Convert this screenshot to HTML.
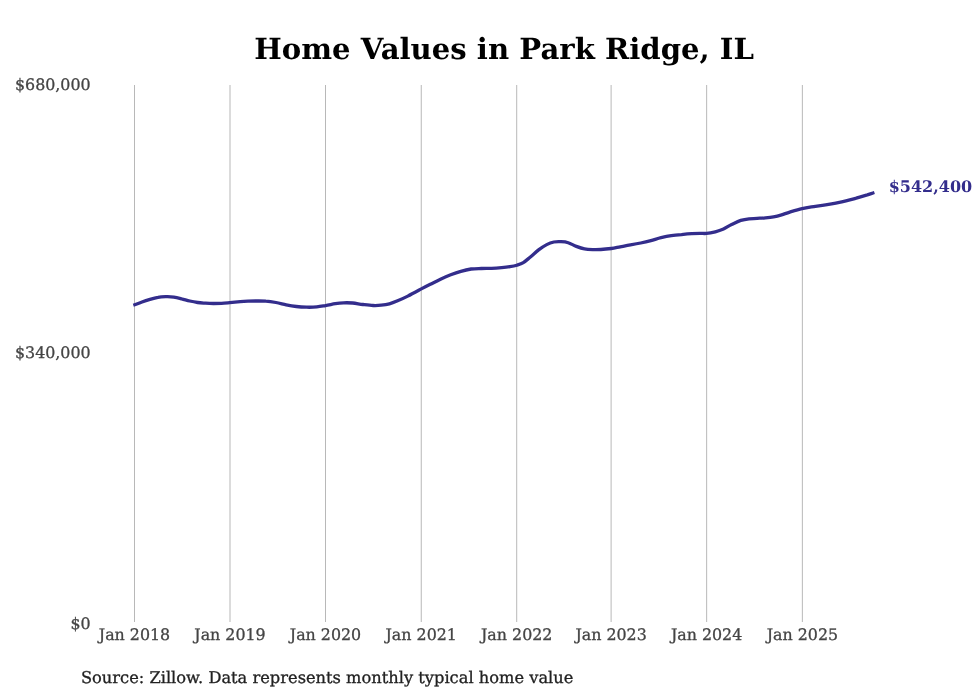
<!DOCTYPE html>
<html lang="en"><head><meta charset="utf-8"><title>Home Values in Park Ridge, IL</title>
<style>
html,body{margin:0;padding:0;background:#fff;}
body{width:980px;height:699px;overflow:hidden;font-family:"DejaVu Serif","Liberation Serif",serif;}
svg{display:block;}
text{text-rendering:geometricPrecision;font-family:"DejaVu Serif","Liberation Serif",serif;}
</style></head><body>
<svg width="980" height="699" viewBox="0 0 980 699">
<rect width="980" height="699" fill="#fff"/>
<g><rect x="134.00" y="85" width="1" height="537" fill="#b8b8b8"/><rect x="229.50" y="85" width="1" height="537" fill="#b8b8b8"/><rect x="325.00" y="85" width="1" height="537" fill="#b8b8b8"/><rect x="420.75" y="85" width="1" height="537" fill="#b8b8b8"/><rect x="516.20" y="85" width="1" height="537" fill="#b8b8b8"/><rect x="610.60" y="85" width="1" height="537" fill="#b8b8b8"/><rect x="706.15" y="85" width="1" height="537" fill="#b8b8b8"/><rect x="801.85" y="85" width="1" height="537" fill="#b8b8b8"/></g>
<text x="504.1" y="59" text-anchor="middle" font-size="29.15" font-weight="bold" fill="#000">Home Values in Park Ridge, IL</text>
<g font-size="15.85" fill="#444" stroke="#444" stroke-width="0.3" text-anchor="end">
<text x="90.6" y="90">$680,000</text>
<text x="90.6" y="358">$340,000</text>
<text x="90.6" y="629">$0</text>
</g>
<g font-size="15.85" fill="#444" stroke="#444" stroke-width="0.3"><text x="134.5" y="640" text-anchor="middle">Jan 2018</text><text x="230.0" y="640" text-anchor="middle">Jan 2019</text><text x="325.5" y="640" text-anchor="middle">Jan 2020</text><text x="421.2" y="640" text-anchor="middle">Jan 2021</text><text x="516.7" y="640" text-anchor="middle">Jan 2022</text><text x="611.1" y="640" text-anchor="middle">Jan 2023</text><text x="706.6" y="640" text-anchor="middle">Jan 2024</text><text x="802.4" y="640" text-anchor="middle">Jan 2025</text></g>
<path d="M133.3,305.2C134.8,304.7 139.2,303.0 142.0,302.0C144.8,301.0 147.3,300.2 150.0,299.4C152.7,298.6 155.4,297.8 158.0,297.4C160.6,296.9 163.1,296.8 165.7,296.7C168.3,296.6 171.1,296.7 173.8,297.1C176.5,297.5 179.0,298.2 181.7,298.9C184.3,299.5 187.0,300.4 189.7,301.0C192.4,301.6 195.0,302.1 197.7,302.5C200.3,302.9 202.9,303.0 205.6,303.2C208.2,303.4 210.9,303.5 213.6,303.5C216.2,303.5 218.8,303.5 221.5,303.4C224.2,303.3 226.7,303.0 229.8,302.7C232.9,302.4 237.3,301.9 240.3,301.6C243.3,301.3 245.4,301.2 248.0,301.1C250.6,301.0 252.6,301.0 255.6,301.0C258.6,301.0 262.4,300.9 265.8,301.2C269.2,301.4 272.6,301.9 276.0,302.5C279.4,303.1 282.8,304.1 286.2,304.8C289.6,305.5 293.0,306.1 296.4,306.5C299.8,306.9 303.2,307.1 306.6,307.2C310.0,307.3 313.6,307.2 316.8,306.9C320.0,306.6 322.5,306.1 325.6,305.6C328.7,305.1 332.3,304.2 335.3,303.7C338.3,303.2 340.6,302.9 343.5,302.8C346.4,302.7 349.5,302.7 352.7,303.0C355.9,303.3 359.5,304.1 362.9,304.5C366.3,304.9 370.1,305.4 373.1,305.5C376.2,305.6 378.5,305.5 381.2,305.2C383.9,304.9 386.7,304.5 389.4,303.8C392.1,303.1 394.5,302.1 397.6,300.8C400.7,299.5 403.9,298.1 407.8,296.1C411.8,294.1 417.6,290.9 421.3,288.9C425.1,286.9 427.1,285.9 430.3,284.3C433.5,282.7 437.1,280.8 440.5,279.2C443.9,277.6 447.3,276.1 450.7,274.8C454.1,273.5 457.5,272.3 460.9,271.3C464.3,270.3 467.7,269.5 471.1,269.0C474.5,268.5 477.9,268.6 481.3,268.5C484.7,268.4 488.1,268.5 491.5,268.4C494.9,268.3 498.6,268.0 501.7,267.7C504.8,267.4 507.4,267.1 509.9,266.7C512.4,266.3 514.6,265.9 516.8,265.2C519.0,264.5 521.0,264.0 523.3,262.6C525.6,261.2 527.8,259.1 530.4,257.0C533.0,254.9 535.9,252.0 538.6,249.9C541.3,247.8 544.2,245.9 546.7,244.6C549.2,243.3 551.5,242.5 553.9,242.0C556.3,241.5 558.6,241.6 561.0,241.7C563.4,241.8 565.7,241.9 568.2,242.7C570.8,243.5 573.6,245.4 576.3,246.4C579.0,247.4 581.8,248.4 584.5,248.9C587.2,249.4 590.0,249.5 592.7,249.6C595.4,249.7 597.7,249.7 600.8,249.5C603.9,249.3 608.0,248.9 611.3,248.5C614.5,248.1 617.1,247.4 620.3,246.8C623.5,246.2 627.1,245.5 630.5,244.9C633.9,244.3 637.3,243.7 640.7,243.0C644.1,242.3 647.5,241.5 650.9,240.6C654.3,239.7 657.7,238.5 661.1,237.7C664.5,236.9 667.9,236.2 671.3,235.7C674.7,235.2 678.1,234.9 681.5,234.6C684.9,234.2 688.6,233.8 691.7,233.6C694.8,233.4 697.5,233.3 700.0,233.3C702.5,233.3 704.1,233.7 706.6,233.4C709.1,233.2 712.5,232.5 715.3,231.8C718.1,231.1 720.8,230.2 723.5,229.0C726.2,227.8 728.7,225.9 731.6,224.5C734.5,223.1 737.9,221.3 740.8,220.4C743.7,219.5 746.3,219.1 749.0,218.8C751.7,218.5 754.4,218.6 757.1,218.4C759.8,218.2 762.6,218.1 765.3,217.8C768.0,217.6 770.8,217.4 773.5,216.9C776.2,216.4 778.9,215.7 781.6,214.9C784.3,214.1 786.4,213.1 789.8,212.1C793.2,211.1 797.8,209.7 802.1,208.7C806.4,207.7 811.5,207.0 815.4,206.3C819.3,205.7 822.2,205.3 825.6,204.8C829.0,204.3 832.4,203.8 835.8,203.1C839.2,202.4 842.6,201.7 846.0,200.9C849.4,200.1 852.8,199.1 856.2,198.2C859.6,197.2 863.4,196.1 866.4,195.2C869.4,194.2 873.1,192.9 874.4,192.5" fill="none" stroke="#332d8c" stroke-width="3.3" stroke-linecap="butt" stroke-linejoin="round"/>
<text x="888.7" y="192" font-size="16" font-weight="bold" fill="#332d8c">$542,400</text>
<text x="80.9" y="683" font-size="16.25" fill="#222" stroke="#222" stroke-width="0.3">Source: Zillow. Data represents monthly typical home value</text>
</svg>
</body></html>
